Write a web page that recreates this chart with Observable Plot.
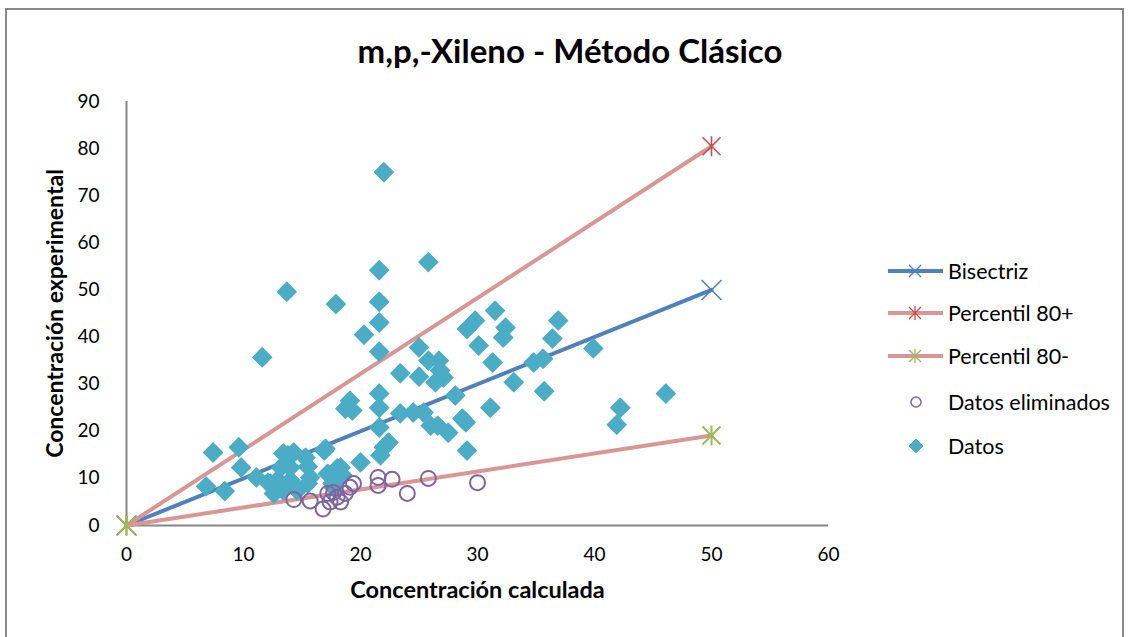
<!DOCTYPE html>
<html><head><meta charset="utf-8">
<script src="https://cdn.jsdelivr.net/npm/d3@7"></script>
<script src="https://cdn.jsdelivr.net/npm/@observablehq/plot@0.6"></script>
<style>
body{margin:0;background:#fff;font-family:Lato,sans-serif;}
#wrap{position:relative;width:1129px;height:637px;overflow:hidden;background:#fff;}
#frame{position:absolute;left:5px;top:8px;width:1119px;height:640px;border:2px solid #888;border-bottom:none;box-sizing:border-box;}
#title{position:absolute;left:10px;width:1120px;top:30px;text-align:center;font-weight:bold;font-size:33px;line-height:40px;color:#000;}
#chart{position:absolute;left:0;top:80px;}
.lg{position:absolute;left:888px;height:30px;display:flex;align-items:center;font-size:21.5px;color:#000;white-space:nowrap;}
.lg svg{margin-right:2px;}
</style></head>
<body><div id="wrap"><div id="frame"></div><div id="title">m,p,-Xileno - Método Clásico</div><div id="chart"></div></div>
<script>
// ---- data ----
const xTicks = [0, 10, 20, 30, 40, 50, 60];
const yTicks = [0, 10, 20, 30, 40, 50, 60, 70, 80, 90];
const lineX = [0, 50];
const bisectrizY = [0, 50];
const p80PlusY = [0, 80.5];
const p80MinusY = [0, 19.1];

const datosX = [22.0, 21.6, 25.8, 13.7, 17.9, 21.6, 21.6, 11.6, 20.3, 21.6, 25.0,
  31.5, 29.8, 29.1, 32.4, 32.2, 36.9, 36.4, 30.1, 31.3, 34.8, 35.6, 39.9, 33.1, 35.7, 46.1, 28.1, 31.1, 42.2, 41.9,
  25.8, 26.7, 26.8, 27.1, 26.4, 23.4, 25.0, 21.6, 21.6, 23.4, 24.5, 25.4, 21.6, 26.0, 26.6, 27.5, 28.7, 29.0, 29.1, 22.4, 22.0, 21.7, 20.0, 19.1, 19.3, 18.7,
  7.4, 9.6, 9.8, 16.9, 6.8, 8.4, 11.1, 12.1, 13.4, 14.3, 15.3, 13.2, 14.0, 12.9, 14.0, 13.4, 14.6, 15.5, 15.7, 12.6, 17.0, 17.2, 18.0, 18.5, 17.6, 12.3, 18.3, 17.9, 13.8, 15.5, 17.7];
const datosY = [75.0, 54.2, 55.9, 49.6, 47.0, 47.5, 43.1, 35.7, 40.5, 36.9, 37.8,
  45.6, 43.5, 41.7, 42.0, 39.9, 43.5, 39.7, 38.2, 34.6, 34.6, 35.4, 37.6, 30.4, 28.5, 28.0, 27.6, 25.0, 25.0, 21.4,
  35.0, 35.0, 32.9, 31.4, 30.4, 32.3, 31.6, 28.0, 25.0, 23.8, 24.0, 24.0, 20.8, 21.2, 21.2, 19.7, 22.7, 21.9, 15.9, 17.6, 16.6, 14.9, 13.4, 26.5, 24.4, 24.8,
  15.5, 16.6, 12.3, 15.9, 8.3, 7.3, 10.2, 9.1, 15.3, 15.5, 14.4, 12.3, 12.3, 9.6, 9.6, 7.4, 7.4, 8.9, 10.2, 6.8, 16.3, 11.0, 12.1, 10.6, 8.9, 8.9, 12.3, 10.2, 14.9, 12.5, 8.1];

const elimX = [14.3, 15.7, 16.8, 17.4, 18.0, 18.3, 18.7, 19.1, 19.4, 21.5, 21.5, 22.7, 24.0, 25.8, 30.0, 17.2, 17.7];
const elimY = [5.5, 5.2, 3.5, 5.0, 6.0, 5.0, 6.8, 8.1, 8.9, 10.2, 8.5, 9.8, 6.8, 10.0, 9.1, 6.8, 7.0];

const legendLabels = ["Bisectriz", "Percentil 80+", "Percentil 80-", "Datos eliminados", "Datos"];

// ---- colours ----
const cBlue = "#4F81BD", cPink = "#D99694", cRed = "#C0504D", cGreen = "#9BBB59", cPurple = "#8064A2", cAqua = "#4BACC6";

const asterisk = {draw(ctx, size) {
  const h = Math.sqrt(size / Math.PI);
  ctx.moveTo(-h, -h); ctx.lineTo(h, h);
  ctx.moveTo(-h, h); ctx.lineTo(h, -h);
  ctx.moveTo(0, -h * 1.1); ctx.lineTo(0, h * 1.1);
}};
const cross = {draw(ctx, size) {
  const h = Math.sqrt(size / Math.PI);
  ctx.moveTo(-h, -h); ctx.lineTo(h, h);
  ctx.moveTo(-h, h); ctx.lineTo(h, -h);
}};

const mk = (ys) => lineX.map((x, i) => ({x, y: ys[i]}));
const bis = mk(bisectrizY), pPlus = mk(p80PlusY), pMinus = mk(p80MinusY);
const datos = datosX.map((x, i) => ({x, y: datosY[i]}));
const elim = elimX.map((x, i) => ({x, y: elimY[i]}));

const chart = Plot.plot({
  width: 1129, height: 540,
  marginLeft: 126, marginRight: 301, marginTop: 21, marginBottom: 95,
  style: {fontFamily: "Lato, sans-serif", fontSize: "19px", color: "#000", background: "transparent", overflow: "visible"},
  x: {domain: [0, 60], ticks: xTicks, tickSize: 0, tickPadding: 22, label: null, tickFormat: d => String(d)},
  y: {domain: [0, 90], ticks: yTicks, tickSize: 0, tickPadding: 27, label: null, tickFormat: d => String(d)},
  marks: [
    Plot.ruleY([0], {stroke: "#868686", strokeWidth: 2}),
    Plot.ruleX([0], {stroke: "#868686", strokeWidth: 2}),
    Plot.line(bis, {x: "x", y: "y", stroke: cBlue, strokeWidth: 4}),
    Plot.dot(bis, {x: "x", y: "y", symbol: cross, r: 10, stroke: cBlue, strokeWidth: 1.6, fill: "none"}),
    Plot.line(pPlus, {x: "x", y: "y", stroke: cPink, strokeWidth: 4}),
    Plot.dot(pPlus, {x: "x", y: "y", symbol: asterisk, r: 9, stroke: cRed, strokeWidth: 1.6, fill: "none"}),
    Plot.line(pMinus, {x: "x", y: "y", stroke: cPink, strokeWidth: 4}),
    Plot.dot(pMinus, {x: "x", y: "y", symbol: asterisk, r: 9, stroke: cGreen, strokeWidth: 2, fill: "none"}),
    Plot.dot(datos, {x: "x", y: "y", symbol: "diamond2", r: 8.6, fill: cAqua, stroke: cAqua, strokeWidth: 1.2, strokeLinejoin: "round"}),
    Plot.dot(elim, {x: "x", y: "y", r: 7.5, stroke: cPurple, strokeWidth: 2, fill: "none"}),
    Plot.text(["Concentración calculada"], {frameAnchor: "bottom", dy: 72, fontSize: 23.5, fontWeight: "bold"}),
    Plot.text(["Concentración experimental"], {frameAnchor: "left", textAnchor: "middle", dx: -71, rotate: -90, fontSize: 23, fontWeight: "bold"})
  ]
});
document.getElementById("chart").appendChild(chart);

// ---- legend ----
const wrap = document.getElementById("wrap");
const rowY = [271, 313, 356, 402, 446];
const ns = "http://www.w3.org/2000/svg";
legendLabels.forEach((lab, i) => {
  const row = document.createElement("div");
  row.className = "lg";
  row.style.top = (rowY[i] - 15) + "px";
  const s = document.createElementNS(ns, "svg");
  s.setAttribute("width", 58); s.setAttribute("height", 30);
  let inner = "";
  if (i < 3) {
    const lc = i === 0 ? cBlue : cPink;
    inner += `<line x1="0" y1="15" x2="55" y2="15" stroke="${lc}" stroke-width="4"/>`;
    const mc = i === 0 ? cBlue : (i === 1 ? cRed : cGreen);
    inner += `<path d="M21,9L33,21M21,21L33,9" stroke="${mc}" stroke-width="1.3" fill="none"/>`;
    if (i > 0) inner += `<path d="M27,8L27,22" stroke="${mc}" stroke-width="1.3"/>`;
  } else if (i === 3) {
    inner += `<circle cx="28" cy="15" r="5" fill="none" stroke="${cPurple}" stroke-width="1.5"/>`;
  } else {
    inner += `<path d="M28,8L35,15L28,22L21,15Z" fill="${cAqua}" stroke="${cAqua}" stroke-linejoin="round"/>`;
  }
  s.innerHTML = inner;
  row.appendChild(s);
  const t = document.createElement("span");
  t.textContent = lab;
  row.appendChild(t);
  wrap.appendChild(row);
});
</script>
</body></html>
